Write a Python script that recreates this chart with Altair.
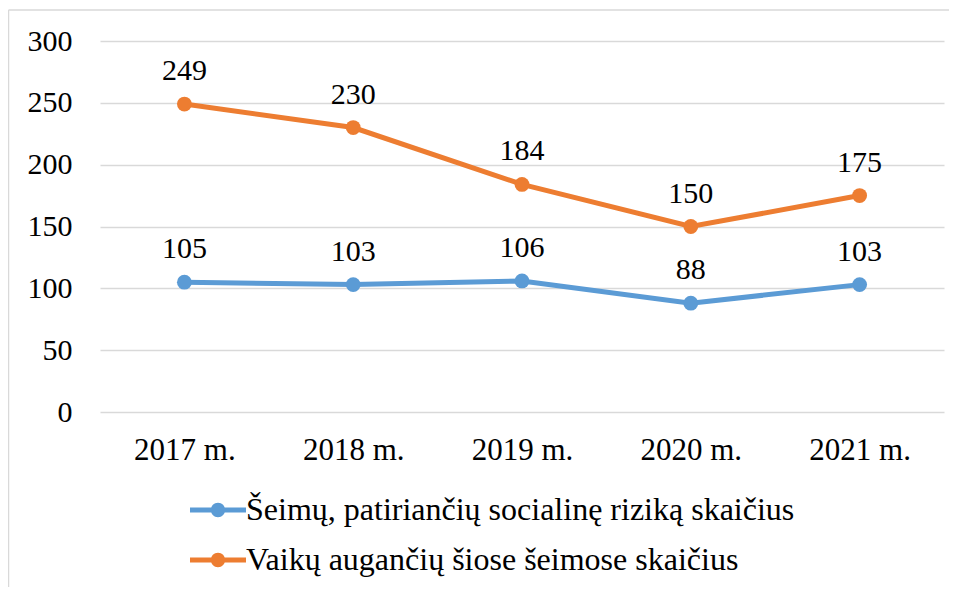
import altair as alt
import pandas as pd

years = ["2017 m.", "2018 m.", "2019 m.", "2020 m.", "2021 m."]
families = [105, 103, 106, 88, 103]
children = [249, 230, 184, 150, 175]
series_names = [
    "Šeimų, patiriančių socialinę riziką skaičius",
    "Vaikų augančių šiose šeimose skaičius",
]
colors = ["#5B9BD5", "#ED7D31"]
y_ticks = [0, 50, 100, 150, 200, 250, 300]

rows = []
for yr, f, c in zip(years, families, children):
    rows.append({"year": yr, "series": series_names[0], "value": f})
    rows.append({"year": yr, "series": series_names[1], "value": c})
df = pd.DataFrame(rows)

FONT = "Liberation Serif"

x = alt.X(
    "year:N",
    sort=years,
    scale=alt.Scale(type="point", padding=0.5),
    axis=alt.Axis(
        title=None, labelAngle=0, domain=False, ticks=False, tickSize=0, grid=False,
        labelFont=FONT, labelFontSize=31, labelColor="black",
        labelBaseline="alphabetic", labelPadding=47,
    ),
)
y = alt.Y(
    "value:Q",
    scale=alt.Scale(domain=[0, 300], nice=False, zero=True),
    axis=alt.Axis(
        title=None, values=y_ticks, domain=False, ticks=False, tickSize=0,
        gridColor="#D9D9D9", gridWidth=1.5,
        labelFont=FONT, labelFontSize=30, labelColor="black", labelPadding=28,
    ),
)

legend_path = (
    "M-1.4,-0.125L1.4,-0.125L1.4,0.125L-1.4,0.125Z "
    "M0.36,0A0.36,0.36,0,1,1,-0.36,0A0.36,0.36,0,1,1,0.36,0Z"
)

line_layers = [
    alt.Chart(df)
    .transform_filter(alt.datum.series == name)
    .mark_line(strokeWidth=5, color=col)
    .encode(x=x, y=y)
    for name, col in zip(series_names, colors)
]

points = alt.Chart(df).mark_circle(size=220, opacity=1).encode(
    x=x, y=y,
    color=alt.Color(
        "series:N", sort=series_names,
        scale=alt.Scale(domain=series_names, range=colors),
        legend=alt.Legend(
            title=None, orient="none", legendX=98, legendY=449,
            symbolType=legend_path, symbolSize=1600, symbolStrokeWidth=0,
            symbolOpacity=1, labelFont=FONT, labelFontSize=32, labelColor="black",
            labelLimit=0, labelOffset=8, rowPadding=14, padding=0, direction="vertical",
        ),
    ),
)

labels = alt.Chart(df).mark_text(
    font=FONT, fontSize=30, color="black", baseline="alphabetic", dy=-24
).encode(x=x, y=y, text=alt.Text("value:Q"))

one = pd.DataFrame({"a": [0]})
frame_v = alt.Chart(one).mark_rule(color="#D9D9D9", strokeWidth=1.5).encode(
    x=alt.value(-91.5), y=alt.value(-31), y2=alt.value(600)
)
frame_h = alt.Chart(one).mark_rule(color="#D9D9D9", strokeWidth=1.5).encode(
    x=alt.value(-91.5), x2=alt.value(900), y=alt.value(-31)
)

chart = alt.layer(frame_v, frame_h, *line_layers, points, labels).properties(
    width=844, height=371,
    padding={"left": 92, "top": 33, "right": 5, "bottom": 175},
    autosize=alt.AutoSizeParams(type="none"),
).configure_view(stroke=None)

chart.save("out.html", embed_options={"renderer": "svg", "actions": False})
